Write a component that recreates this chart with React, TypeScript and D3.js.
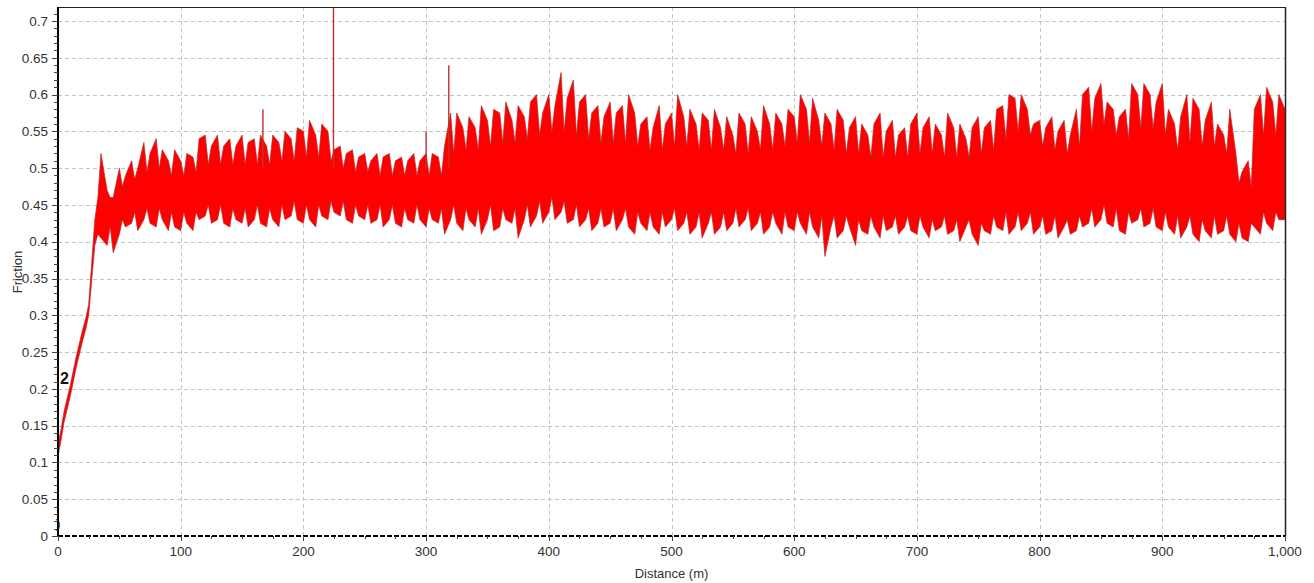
import React from "react";
import * as d3 from "d3";

// friction peaks / troughs, one sample every 5 m (0 .. 1000 m)
const sampleStep = 5;
const upper = [
  0.125, 0.17, 0.205, 0.245, 0.28, 0.315, 0.43, 0.52, 0.47, 0.46,
  0.5, 0.49, 0.51, 0.5, 0.535, 0.52, 0.54, 0.525, 0.51, 0.525,
  0.51, 0.52, 0.515, 0.54, 0.545, 0.53, 0.545, 0.53, 0.54, 0.53,
  0.545, 0.535, 0.54, 0.545, 0.53, 0.545, 0.535, 0.55, 0.54, 0.555,
  0.55, 0.565, 0.545, 0.56, 0.55, 0.525, 0.53, 0.52, 0.525, 0.515,
  0.52, 0.51, 0.52, 0.515, 0.52, 0.51, 0.515, 0.51, 0.52, 0.51,
  0.52, 0.52, 0.515, 0.53, 0.575, 0.575, 0.555, 0.57, 0.555, 0.585,
  0.565, 0.58, 0.575, 0.59, 0.565, 0.585, 0.57, 0.59, 0.6, 0.575,
  0.6, 0.585, 0.63, 0.595, 0.62, 0.59, 0.6, 0.575, 0.585, 0.57,
  0.59, 0.575, 0.585, 0.6, 0.575, 0.56, 0.57, 0.555, 0.585, 0.56,
  0.575, 0.6, 0.57, 0.58, 0.56, 0.575, 0.565, 0.58, 0.555, 0.57,
  0.545, 0.575, 0.56, 0.57, 0.55, 0.585, 0.56, 0.575, 0.56, 0.58,
  0.57, 0.6, 0.58, 0.595, 0.565, 0.575, 0.56, 0.58, 0.565, 0.555,
  0.57, 0.56, 0.545, 0.56, 0.575, 0.55, 0.565, 0.545, 0.555, 0.56,
  0.575, 0.555, 0.57, 0.56, 0.545, 0.575, 0.555, 0.56, 0.54, 0.555,
  0.57, 0.555, 0.565, 0.58, 0.585, 0.6, 0.595, 0.6, 0.58, 0.56,
  0.565, 0.555, 0.57, 0.55, 0.565, 0.545, 0.58, 0.6, 0.61, 0.595,
  0.615, 0.59, 0.58, 0.57, 0.58, 0.615, 0.6, 0.615, 0.6, 0.59,
  0.615, 0.58, 0.56, 0.57, 0.6, 0.595, 0.58, 0.565, 0.59, 0.56,
  0.545, 0.58, 0.52, 0.495, 0.51, 0.58, 0.6, 0.61, 0.59, 0.6,
  0.58,
];
const lower = [
  0.108, 0.155, 0.19, 0.23, 0.265, 0.3, 0.395, 0.405, 0.395, 0.385,
  0.41, 0.42, 0.425, 0.415, 0.43, 0.425, 0.42, 0.43, 0.415, 0.42,
  0.415, 0.425, 0.415, 0.43, 0.435, 0.425, 0.43, 0.425, 0.42, 0.43,
  0.425, 0.42, 0.43, 0.425, 0.42, 0.43, 0.42, 0.43, 0.435, 0.43,
  0.425, 0.43, 0.42, 0.435, 0.43, 0.44, 0.435, 0.43, 0.425, 0.435,
  0.43, 0.425, 0.43, 0.42, 0.43, 0.425, 0.42, 0.43, 0.425, 0.43,
  0.42, 0.43, 0.425, 0.41, 0.43, 0.425, 0.415, 0.43, 0.42, 0.41,
  0.43, 0.415, 0.42, 0.43, 0.425, 0.405, 0.43, 0.42, 0.435, 0.425,
  0.44, 0.43, 0.44, 0.425, 0.43, 0.42, 0.43, 0.415, 0.425, 0.42,
  0.425, 0.415, 0.43, 0.42, 0.41, 0.425, 0.415, 0.42, 0.41, 0.42,
  0.43, 0.415, 0.425, 0.41, 0.42, 0.405, 0.425, 0.41, 0.42, 0.415,
  0.425, 0.42, 0.43, 0.415, 0.425, 0.41, 0.42, 0.425, 0.41, 0.42,
  0.415, 0.425, 0.41, 0.42, 0.405, 0.38, 0.42, 0.405, 0.415, 0.42,
  0.395, 0.415, 0.41, 0.42, 0.405, 0.415, 0.42, 0.41, 0.42, 0.415,
  0.41, 0.42, 0.405, 0.415, 0.42, 0.41, 0.415, 0.4, 0.42, 0.41,
  0.395, 0.415, 0.41, 0.42, 0.415, 0.41, 0.42, 0.415, 0.425, 0.41,
  0.42, 0.41, 0.415, 0.405, 0.42, 0.41, 0.415, 0.42, 0.425, 0.42,
  0.43, 0.425, 0.42, 0.415, 0.41, 0.425, 0.43, 0.42, 0.425, 0.42,
  0.415, 0.42, 0.41, 0.405, 0.42, 0.41, 0.4, 0.415, 0.405, 0.41,
  0.415, 0.41, 0.4, 0.405, 0.4, 0.42, 0.41, 0.425, 0.415, 0.43,
  0.43,
];

// solid body of the trace (the dips between peaks), one sample every 10 m from 2.5 m
const coreStart = 2.5;
const coreStep = 10;
const coreHi = [
  0.145, 0.225, 0.295, 0.46, 0.46, 0.475, 0.485, 0.495, 0.5, 0.49,
  0.49, 0.495, 0.505, 0.505, 0.505, 0.505, 0.505, 0.505, 0.51, 0.51,
  0.515, 0.515, 0.51, 0.5, 0.495, 0.495, 0.49, 0.49, 0.49, 0.49,
  0.49, 0.49, 0.52, 0.525, 0.525, 0.53, 0.535, 0.535, 0.54, 0.545,
  0.55, 0.55, 0.545, 0.54, 0.535, 0.535, 0.535, 0.53, 0.525, 0.525,
  0.53, 0.53, 0.525, 0.525, 0.525, 0.52, 0.52, 0.525, 0.525, 0.53,
  0.535, 0.535, 0.53, 0.525, 0.52, 0.52, 0.515, 0.515, 0.515, 0.515,
  0.52, 0.52, 0.515, 0.515, 0.515, 0.52, 0.525, 0.54, 0.55, 0.545,
  0.53, 0.525, 0.52, 0.53, 0.55, 0.56, 0.545, 0.54, 0.555, 0.555,
  0.545, 0.525, 0.535, 0.53, 0.53, 0.52, 0.48, 0.475, 0.545, 0.545,
];
const coreLo = [
  0.13, 0.21, 0.28, 0.41, 0.42, 0.43, 0.44, 0.445, 0.445, 0.44,
  0.44, 0.44, 0.45, 0.45, 0.445, 0.445, 0.45, 0.445, 0.45, 0.455,
  0.45, 0.45, 0.455, 0.455, 0.45, 0.45, 0.45, 0.45, 0.445, 0.45,
  0.445, 0.445, 0.45, 0.445, 0.445, 0.45, 0.445, 0.445, 0.45, 0.455,
  0.46, 0.455, 0.45, 0.445, 0.445, 0.445, 0.445, 0.44, 0.44, 0.44,
  0.445, 0.44, 0.44, 0.44, 0.44, 0.445, 0.445, 0.44, 0.44, 0.44,
  0.44, 0.44, 0.435, 0.435, 0.435, 0.43, 0.435, 0.435, 0.435, 0.435,
  0.435, 0.43, 0.435, 0.43, 0.43, 0.425, 0.435, 0.44, 0.44, 0.44,
  0.435, 0.435, 0.43, 0.435, 0.445, 0.45, 0.445, 0.44, 0.445, 0.445,
  0.44, 0.435, 0.435, 0.43, 0.435, 0.435, 0.425, 0.425, 0.44, 0.44,
];

// single isolated spikes
const spikeDist = [224.5, 318.5, 167, 300];
const spikeTop = [0.73, 0.64, 0.58, 0.55];

const xTicks = [0, 100, 200, 300, 400, 500, 600, 700, 800, 900, 1000];
const yTicks = [0, 0.05, 0.1, 0.15, 0.2, 0.25, 0.3, 0.35, 0.4, 0.45, 0.5, 0.55, 0.6, 0.65, 0.7];

const W = 1314, H = 583;
const left = 58, right = 1285, top = 7, bottom = 536;
const font = '"Liberation Sans", Arial, sans-serif';

const App = () => {
  const x = d3.scaleLinear().domain([0, 1000]).range([left, right]);
  const y = d3.scaleLinear().domain([0, 0.7]).range([bottom, 21]);

  // peaks and dips merged along the distance axis
  const pts = [
    ...upper.map((u, i) => ({ d: i * sampleStep, hi: u, lo: lower[i] })),
    ...coreHi.map((h, j) => ({ d: coreStart + j * coreStep, hi: h, lo: coreLo[j] })),
  ].sort((a, b) => a.d - b.d);

  const band = d3.area<any>()
    .x((p) => x(p.d))
    .y0((p) => y(p.lo))
    .y1((p) => y(p.hi))(pts) || "";

  const xMinor = d3.range(0, 1001, 25);
  const yMinor = d3.range(0, 72).map((v) => v / 100);
  const fmtX = d3.format(",");

  return (
    <svg width={W} height={H} style={{ position: "fixed", left: 0, top: 0, background: "#fff" }}>
      <defs>
        <clipPath id="plot">
          <rect x={left} y={top} width={right - left} height={bottom - top} />
        </clipPath>
      </defs>

      {/* grid */}
      <g stroke="#c4c4c4" strokeDasharray="4,3" strokeWidth={1}>
        {yTicks.slice(1).map((t) => (
          <line key={"gy" + t} x1={left} x2={right} y1={Math.round(y(t)) + 0.5} y2={Math.round(y(t)) + 0.5} />
        ))}
        {xTicks.slice(1, -1).map((t) => (
          <line key={"gx" + t} y1={top} y2={bottom} x1={Math.round(x(t)) + 0.5} x2={Math.round(x(t)) + 0.5} />
        ))}
      </g>

      {/* signal */}
      <g clipPath="url(#plot)">
        <path d={band} fill="#ff0000" stroke="#b52c2c" strokeWidth={0.7} strokeLinejoin="round" />
        {spikeDist.map((d, i) => (
          <line key={"sp" + d} x1={x(d)} x2={x(d)} y1={y(spikeTop[i])} y2={y(0.5)} stroke="#c0302c" strokeWidth={1.4} />
        ))}
      </g>

      {/* frame */}
      <line x1={left} x2={right} y1={top + 0.5} y2={top + 0.5} stroke="#222" />
      <line x1={right + 0.5} x2={right + 0.5} y1={top} y2={bottom} stroke="#222" strokeWidth={1.5} />
      <line x1={left} x2={right} y1={bottom} y2={bottom} stroke="#000" strokeWidth={2} strokeDasharray="5,2" />
      <line x1={left} x2={left} y1={top} y2={bottom + 1} stroke="#000" strokeWidth={2} />

      {/* ticks */}
      <g stroke="#444">
        {yMinor.map((v) => (
          <line key={"ym" + v} x1={left - (Math.round(v * 100) % 5 === 0 ? 6 : 4)} x2={left} y1={Math.round(y(v)) + 0.5} y2={Math.round(y(v)) + 0.5} />
        ))}
        {xMinor.map((v) => (
          <line key={"xm" + v} y1={bottom} y2={bottom + (v % 100 === 0 ? 5 : 3)} x1={Math.round(x(v)) + 0.5} x2={Math.round(x(v)) + 0.5} />
        ))}
      </g>

      <g fontFamily={font} fontSize={13.5} fill="#333">
        {yTicks.map((t) => (
          <text key={"ty" + t} x={48} y={y(t)} dy="0.35em" textAnchor="end">{String(t)}</text>
        ))}
        {xTicks.map((t) => (
          <text key={"tx" + t} x={x(t)} y={556} textAnchor="middle">{fmtX(t)}</text>
        ))}
        <text x={x(500)} y={578} textAnchor="middle" fontSize={13}>Distance (m)</text>
        <text transform={`translate(22,272) rotate(-90)`} textAnchor="middle" fontSize={13}>Friction</text>
      </g>

      <text x={60} y={384} fontFamily={font} fontWeight="bold" fontSize={16} fill="#111">2</text>
      <text x={56} y={528} fontFamily={font} fontWeight="bold" fontSize={13} fill="#111">)</text>
    </svg>
  );
};

export default App;
